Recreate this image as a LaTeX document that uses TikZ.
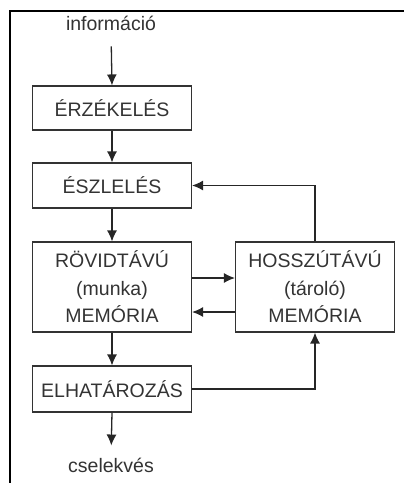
\documentclass[tikz,border=0pt]{standalone}
\usepackage{fontspec}
\setmainfont{Liberation Sans}
\usetikzlibrary{arrows.meta}
\begin{document}
\begin{tikzpicture}[x=1pt,y=-1pt,
  txt/.style={font=\fontsize{19.5}{27.5}\selectfont, text=black!80, inner sep=0pt, align=center},
  box/.style={txt, draw=black!80, line width=1.1pt, minimum width=159pt, rectangle},
  arr/.style={draw=black!85, line width=1.3pt, -{Latex[length=11pt,width=10pt]}},
  frame/.style={line width=2pt, black}]
\useasboundingbox (0,0) rectangle (404,483);
\draw[frame] (9.5,483) -- (9.5,11) -- (404,11);
\node[txt] (info) at (111,23) {információ};
\node[box, minimum height=44pt] (erz) at (112,108) {ÉRZÉKELÉS};
\node[box, minimum height=45pt] (esz) at (112,185.5) {ÉSZLELÉS};
\node[box, minimum height=90pt] (rov) at (112,287) {RÖVIDTÁVÚ\\(munka)\\MEMÓRIA};
\node[box, minimum height=90pt] (hos) at (315,287) {HOSSZÚTÁVÚ\\(tároló)\\MEMÓRIA};
\node[box, minimum height=46pt] (elh) at (112,389) {ELHATÁROZÁS};
\node[txt] (csel) at (111,465) {cselekvés};
\draw[arr, shorten <=16pt] (info.south) -- (erz.north);
\draw[arr] (erz.south) -- (esz.north);
\draw[arr] (esz.south) -- (rov.north);
\draw[arr] ([yshift=9pt]rov.east) -- ([yshift=9pt]hos.west);
\draw[arr] ([yshift=-25pt]hos.west) -- ([yshift=-25pt]rov.east);
\draw[arr] (hos.north) |- (esz.east);
\draw[arr] (rov.south) -- (elh.north);
\draw[arr] (elh.east) -| (hos.south);
\draw[arr, shorten >=12pt] (elh.south) -- (csel.north);
\end{tikzpicture}
\end{document}
